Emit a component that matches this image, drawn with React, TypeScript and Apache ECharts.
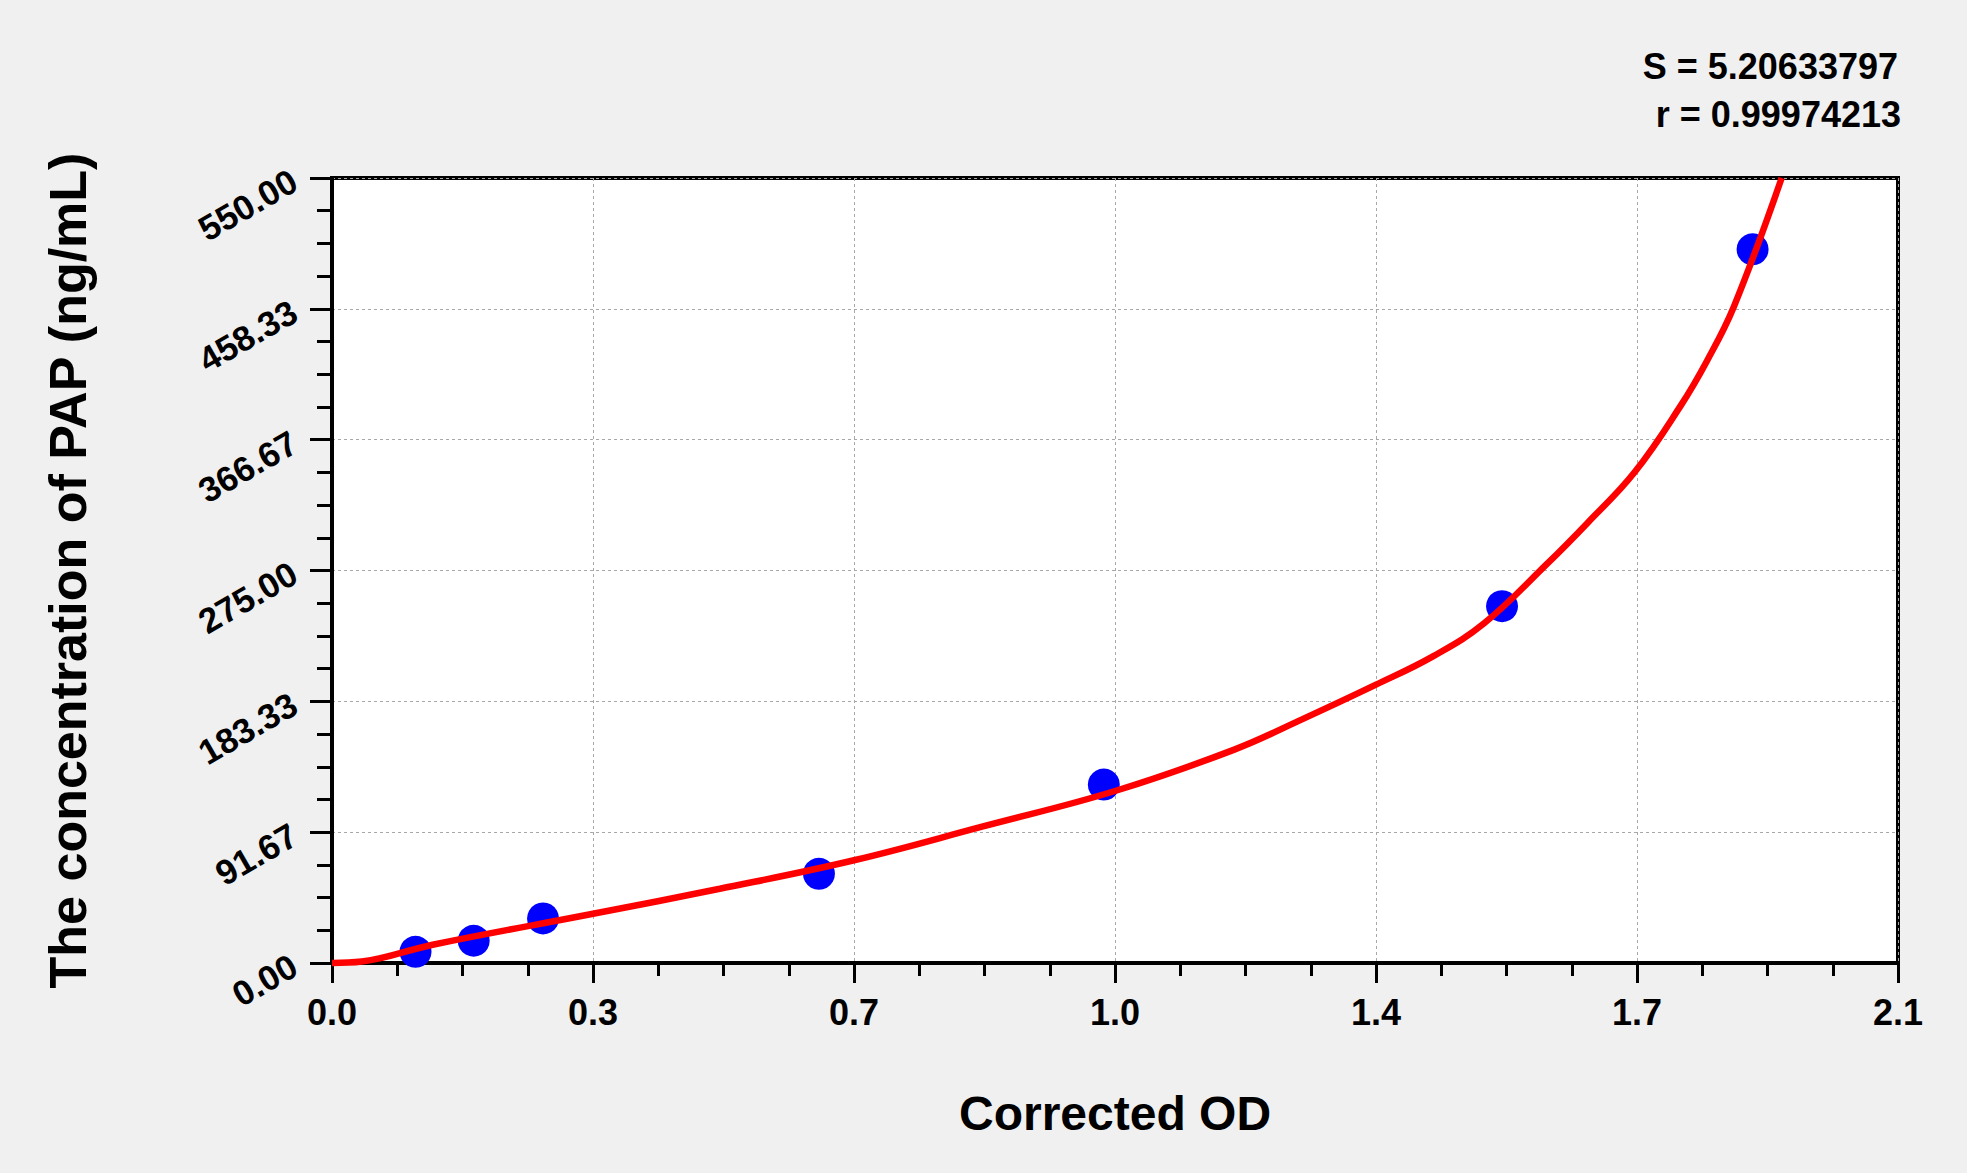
import React, { useEffect, useRef } from "react";
import * as echarts from "echarts";

const xTickLabels = ["0.0", "0.3", "0.7", "1.0", "1.4", "1.7", "2.1"];
const yTickLabels = ["0.00", "91.67", "183.33", "275.00", "366.67", "458.33", "550.00"];

const standardOD = [0.112, 0.19, 0.283, 0.653, 1.035, 1.569, 1.905];
const standardConc = [7.8, 15.6, 31.25, 62.5, 125, 250, 500];

const curveOD = [0, 0.04, 0.135, 0.35, 0.52, 0.7, 0.873, 1.05, 1.21, 1.3, 1.4, 1.477, 1.545, 1.63, 1.683, 1.747, 1.808, 1.844, 1.88, 1.944];
const curveConc = [0, 1, 12.8, 34.5, 52, 72, 95.7, 120.5, 149.5, 170.5, 195, 215, 238, 280, 308, 344, 390, 422, 460, 550];

const statS = "S = 5.20633797";
const statR = "r = 0.99974213";
const xTitle = "Corrected OD";
const yTitle = "The concentration of PAP (ng/mL)";

const FONT = "'Liberation Sans', Arial, sans-serif";

export default function App() {
  const ref = useRef<HTMLDivElement>(null);
  useEffect(() => {
    document.body.style.margin = "0";
    document.body.style.background = "#f0f0f0";
    const chart = echarts.init(ref.current!, null, { renderer: "svg" });
    const xInt = 0.35;
    const yInt = 550 / 6;
    chart.setOption({
      animation: false,
      backgroundColor: "#f0f0f0",
      textStyle: { fontFamily: FONT },
      grid: {
        left: 332,
        right: 69,
        top: 178,
        bottom: 210,
        show: true,
        backgroundColor: "#ffffff",
        borderColor: "#000000",
        borderWidth: 4,
      },
      xAxis: {
        type: "value",
        min: 0,
        max: 2.1,
        interval: xInt,
        name: xTitle,
        nameLocation: "middle",
        nameGap: 126,
        nameTextStyle: { fontSize: 48, fontWeight: "bold", color: "#000", fontFamily: FONT },
        axisLine: { show: true, onZero: false, lineStyle: { color: "#000", width: 4 } },
        axisTick: { show: true, inside: false, length: 20, lineStyle: { color: "#000", width: 3 } },
        minorTick: { show: true, splitNumber: 4, length: 13, lineStyle: { color: "#000", width: 3 } },
        axisLabel: {
          margin: 31,
          fontSize: 36,
          fontWeight: "bold",
          color: "#000",
          fontFamily: FONT,
          formatter: (v: number) => xTickLabels[Math.round(v / xInt)] ?? "",
        },
        splitLine: { show: true, lineStyle: { color: "#a8a8a8", width: 1, type: [3, 3] } },
      },
      yAxis: {
        type: "value",
        min: 0,
        max: 550,
        interval: yInt,
        name: yTitle,
        nameLocation: "middle",
        nameGap: 238,
        nameRotate: 90,
        nameTextStyle: { fontSize: 52, fontWeight: "bold", color: "#000", fontFamily: FONT },
        axisLine: { show: true, onZero: false, lineStyle: { color: "#000", width: 4 } },
        axisTick: { show: true, inside: false, length: 22, lineStyle: { color: "#000", width: 3 } },
        minorTick: { show: true, splitNumber: 4, length: 15, lineStyle: { color: "#000", width: 3 } },
        axisLabel: {
          margin: 38,
          rotate: 30,
          fontSize: 35,
          fontWeight: "bold",
          color: "#000",
          fontFamily: FONT,
          formatter: (v: number) => yTickLabels[Math.round(v / yInt)] ?? "",
        },
        splitLine: { show: true, lineStyle: { color: "#a8a8a8", width: 1, type: [3, 3] } },
      },
      graphic: [
        {
          type: "text",
          right: 69,
          top: 48,
          style: { text: statS, font: `bold 36px ${FONT}`, fill: "#000", textAlign: "right" },
        },
        {
          type: "text",
          right: 66,
          top: 96,
          style: { text: statR, font: `bold 36px ${FONT}`, fill: "#000", textAlign: "right" },
        },
      ],
      series: [
        {
          type: "scatter",
          data: standardOD.map((x, i) => [x, standardConc[i]]),
          symbol: "circle",
          symbolSize: 32,
          itemStyle: { color: "#0000ff", opacity: 1 },
          z: 2,
        },
        {
          type: "line",
          data: curveOD.map((x, i) => [x, curveConc[i]]),
          showSymbol: false,
          smooth: 0.4,
          clip: false,
          lineStyle: { color: "#ff0000", width: 6.5 },
          z: 3,
        },
      ],
    });
    return () => chart.dispose();
  }, []);
  return <div ref={ref} style={{ width: 1967, height: 1173 }} />;
}
